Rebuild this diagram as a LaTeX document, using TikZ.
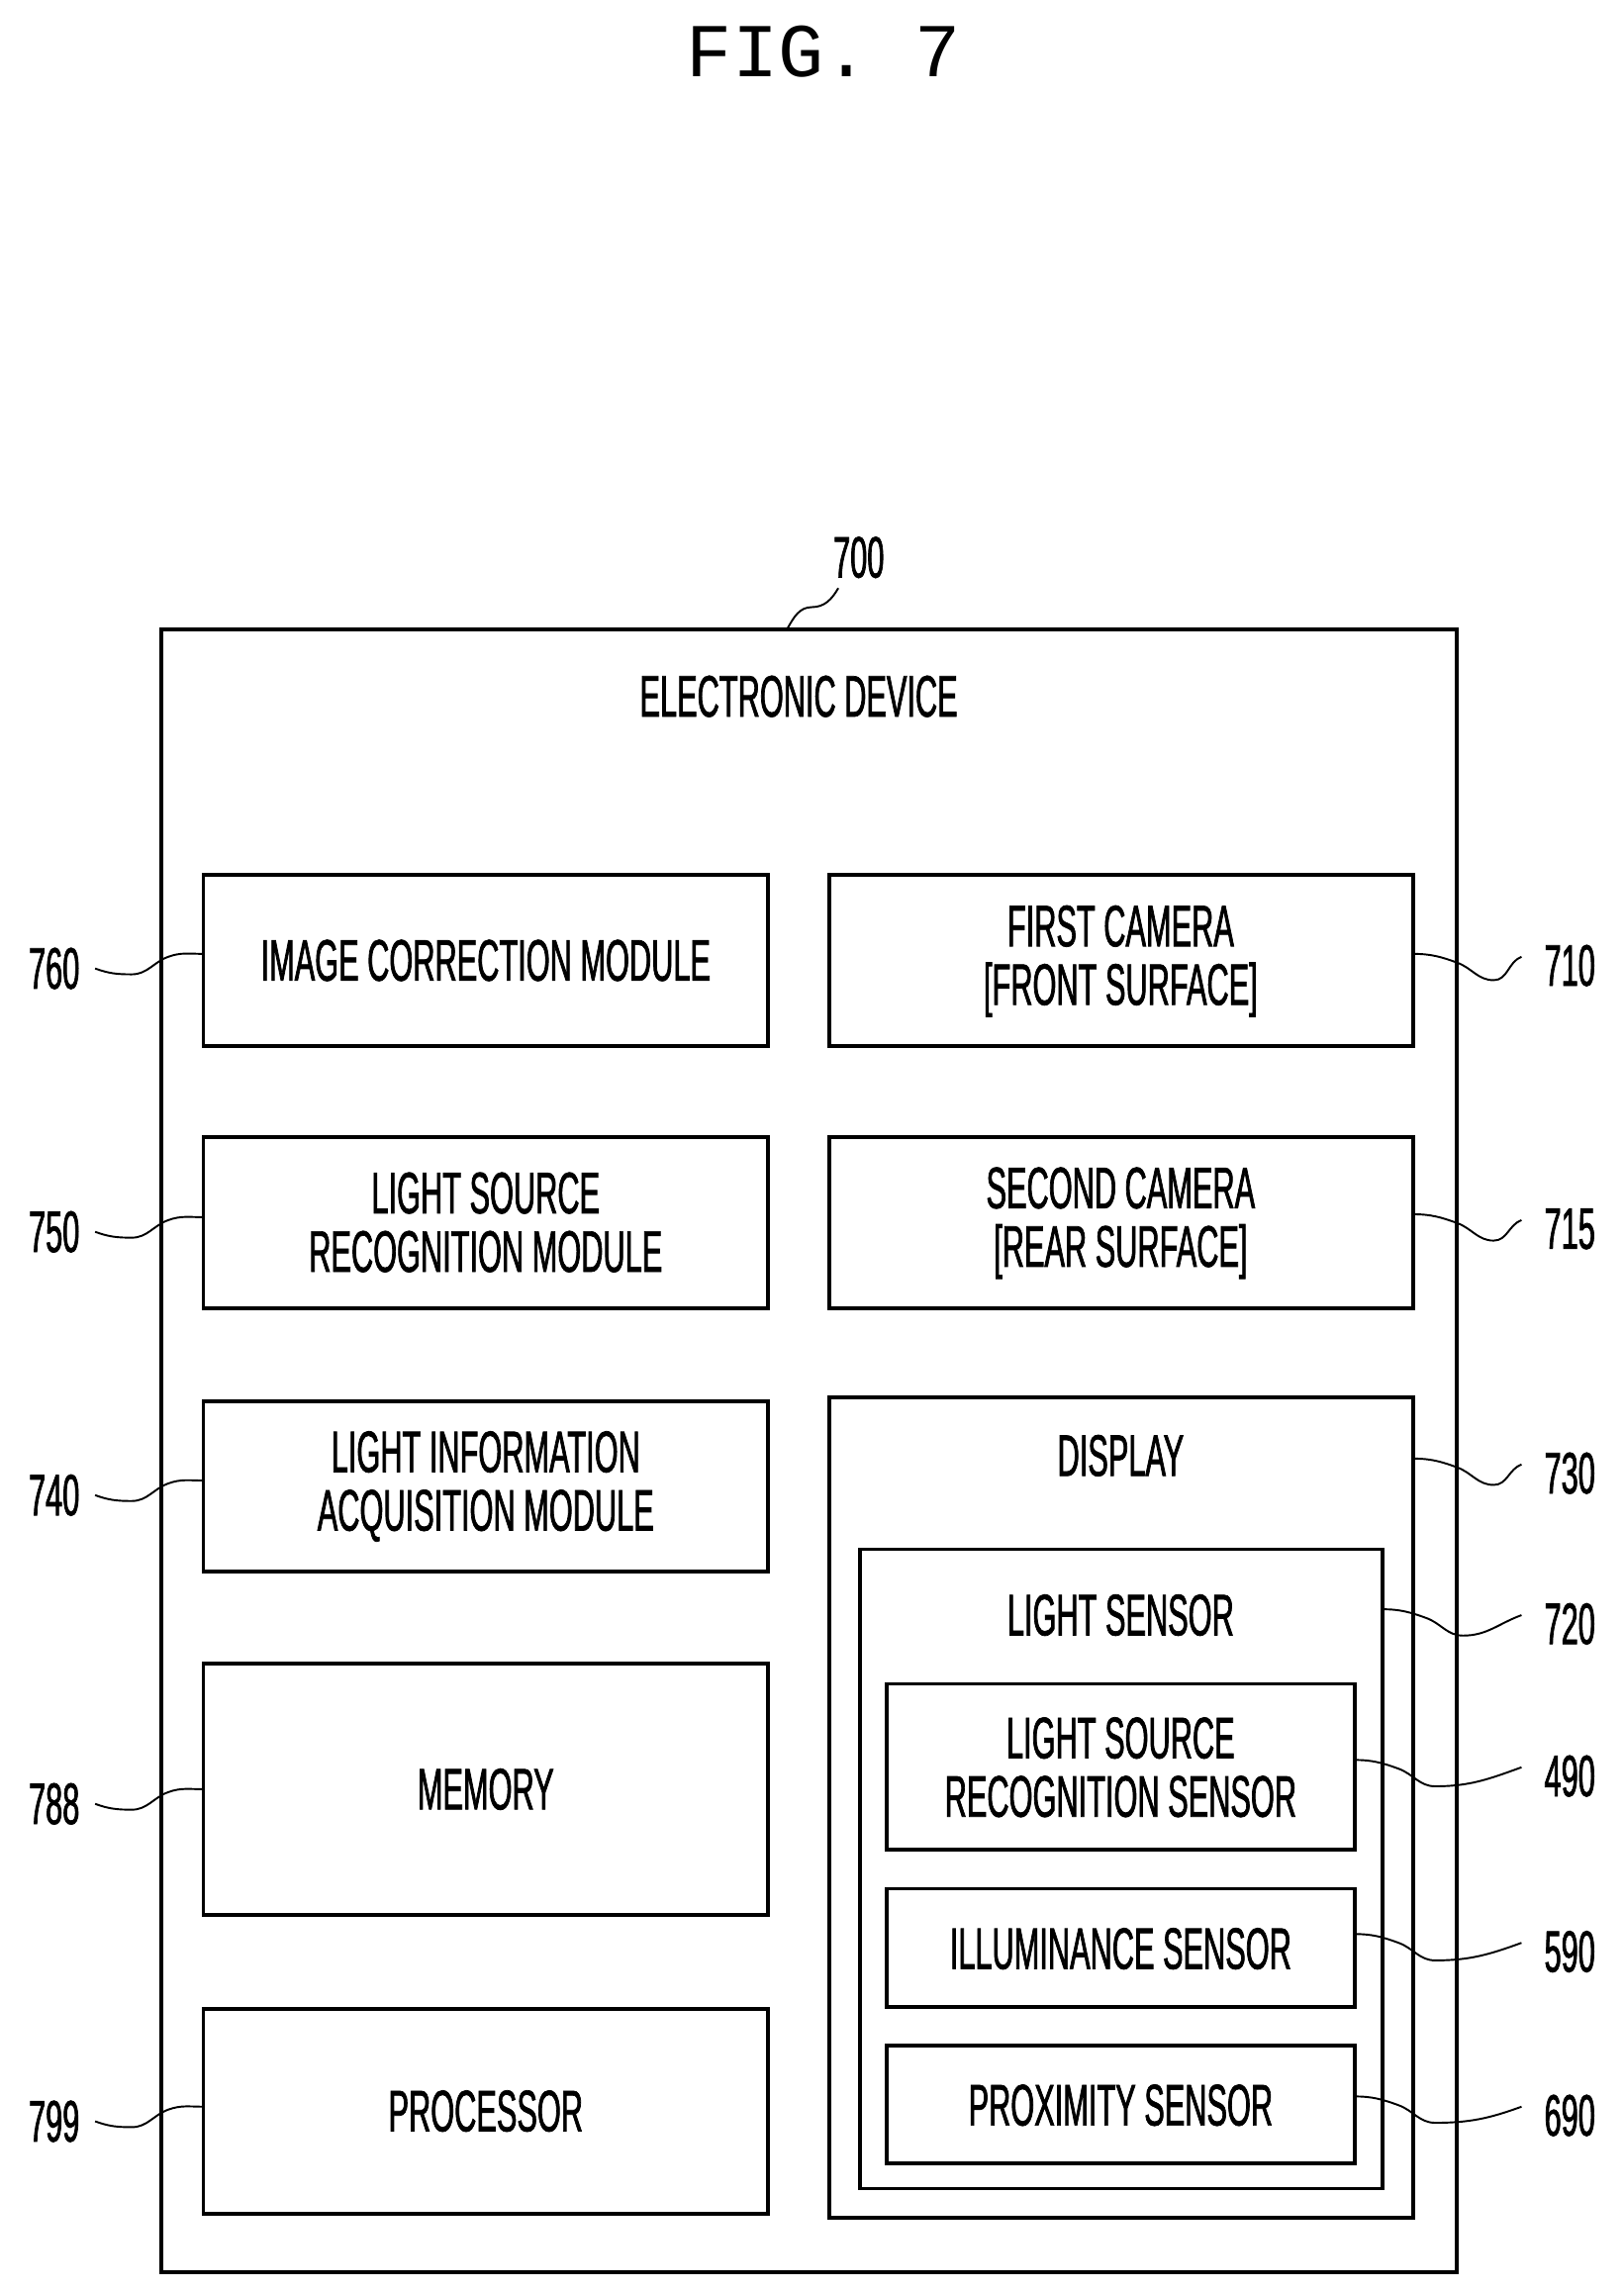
\documentclass[tikz,border=0pt]{standalone}
\usepackage{fontspec}
\setmainfont{Liberation Sans}[FakeStretch=0.52,FakeBold=1.2]
\newfontfamily\figfont{Liberation Mono}
\begin{document}
\begin{tikzpicture}[x=1pt,y=-1pt,
  box/.style={draw,line width=2.6pt},
  txt/.style={font=\fontsize{40}{40}\selectfont,align=center},
  sq/.style={line width=1.3pt}]
\useasboundingbox (0,0) rectangle (1110,1566);
\node[font=\figfont\fontsize{52}{60}\selectfont] (fig) at (563,35) {FIG. 7};
\draw[box] (110,430) rectangle (996,1553);
\node[txt] (ed) at (546,476) {ELECTRONIC DEVICE};
\node[txt] (n700) at (587,381) {700};
\coordinate (o700) at (538,430);
\draw[sq] (o700) to[out=60,in=180] (555,415) to[out=0,in=240] (573,402);
% left boxes
\newcommand\lbox[5]{%
  \draw[box] (139,#1) rectangle (525,#2);
  \node[txt] (b#3) at (332,{(#1+#2)/2}) {#4};
  \node[txt] (l#3) at (37,#5) {#3};
  \coordinate (s#3) at (65,#5);
  \coordinate (e#3) at (139,{#5-10});
  \draw[sq] (s#3) to[out=-20,in=180] (90,{#5+4}) to[out=0,in=200] (115,{#5-8}) to[out=20,in=180] (e#3);}
\lbox{598}{715}{760}{IMAGE CORRECTION MODULE}{662}
\lbox{777}{894}{750}{LIGHT SOURCE\\RECOGNITION MODULE}{842}
\lbox{958}{1074}{740}{LIGHT INFORMATION\\ACQUISITION MODULE}{1022}
\lbox{1137}{1309}{788}{MEMORY}{1233}
\lbox{1373}{1513}{799}{PROCESSOR}{1450}
% right
\newcommand\rlab[4]{% x0 y0 number ylabel
  \coordinate (r#3) at (#1,#2);
  \node[txt] (l#3) at (1073,#4) {#3};
  \draw[sq] (r#3) to[out=0,in=160] ({#1+30},{#2+6}) to[out=-20,in=180] ({#1+55},{#2+18}) to[out=0,in=200] (1040,{#4-6});}
\draw[box] (567,598) rectangle (966,715);
\node[txt] (b710) at (766,657) {FIRST CAMERA\\{[FRONT SURFACE]}};
\rlab{966}{652}{710}{660}
\draw[box] (567,777) rectangle (966,894);
\node[txt] (b715) at (766,836) {SECOND CAMERA\\{[REAR SURFACE]}};
\rlab{966}{830}{715}{840}
\draw[box] (567,955) rectangle (966,1516);
\node[txt] (b730) at (766,995) {DISPLAY};
\rlab{966}{997}{730}{1007}
\draw[box] (588,1059) rectangle (945,1496);
\node[txt] (b720) at (766,1104) {LIGHT SENSOR};
\rlab{945}{1100}{720}{1110}
\draw[box] (606,1151) rectangle (926,1264);
\node[txt] (b490) at (766,1208) {LIGHT SOURCE\\RECOGNITION SENSOR};
\rlab{926}{1203}{490}{1214}
\draw[box] (606,1291) rectangle (926,1372);
\node[txt] (b590) at (766,1332) {ILLUMINANCE SENSOR};
\rlab{926}{1322}{590}{1334}
\draw[box] (606,1398) rectangle (926,1479);
\node[txt] (b690) at (766,1439) {PROXIMITY SENSOR};
\rlab{926}{1433}{690}{1446}
\end{tikzpicture}
\end{document}
